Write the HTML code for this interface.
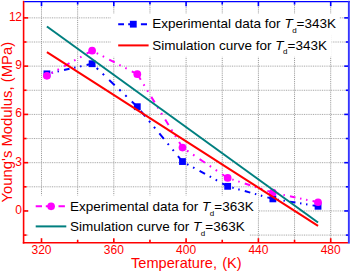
<!DOCTYPE html><html><head><meta charset="utf-8"><title>chart</title><style>
html,body{margin:0;padding:0;background:#fff;}
body{width:350px;height:271px;position:relative;overflow:hidden;font-family:"Liberation Sans",sans-serif;}
.t{position:absolute;white-space:nowrap;line-height:1;}
.yl{color:#f00;font-size:12px;text-align:right;width:20px;left:1.6px;letter-spacing:-0.4px;}
.xl{color:#f00;font-size:12px;text-align:center;width:40px;}
.lg{color:#000;font-size:13.5px;}
.lg i{font-style:italic;}
.lg sub{font-size:8px;vertical-align:baseline;position:relative;top:4.8px;margin-left:-0.5px;}
</style></head><body>
<svg width="350" height="271" viewBox="0 0 350 271" style="position:absolute;left:0;top:0">
<rect x="0" y="0" width="350" height="271" fill="#ffffff"/>
<g stroke="#999" stroke-width="1" stroke-dasharray="1 0.9" fill="none"><line x1="41.50" y1="3" x2="41.50" y2="242"/><line x1="77.65" y1="3" x2="77.65" y2="242"/><line x1="113.80" y1="3" x2="113.80" y2="242"/><line x1="149.95" y1="3" x2="149.95" y2="242"/><line x1="186.10" y1="3" x2="186.10" y2="242"/><line x1="222.25" y1="3" x2="222.25" y2="242"/><line x1="258.40" y1="3" x2="258.40" y2="242"/><line x1="294.55" y1="3" x2="294.55" y2="242"/><line x1="330.70" y1="3" x2="330.70" y2="242"/></g>
<g stroke="#a8a8a8" stroke-width="1" stroke-dasharray="1 0.8" fill="none"><line x1="25" y1="17.87" x2="348" y2="17.87"/><line x1="25" y1="42.00" x2="348" y2="42.00"/><line x1="25" y1="66.14" x2="348" y2="66.14"/><line x1="25" y1="90.27" x2="348" y2="90.27"/><line x1="25" y1="114.41" x2="348" y2="114.41"/><line x1="25" y1="138.54" x2="348" y2="138.54"/><line x1="25" y1="162.68" x2="348" y2="162.68"/><line x1="25" y1="186.81" x2="348" y2="186.81"/><line x1="25" y1="210.95" x2="348" y2="210.95"/><line x1="25" y1="235.08" x2="348" y2="235.08"/></g>
<rect x="111" y="13.7" width="228" height="21" fill="#fff"/>
<rect x="111" y="34" width="220.5" height="22.8" fill="#fff"/>
<rect x="28.5" y="195.5" width="229.7" height="22" fill="#fff"/>
<rect x="28.5" y="217" width="221" height="22.6" fill="#fff"/>
<g stroke-width="1.6" fill="none"><line x1="41.50" y1="242.80" x2="41.50" y2="238.20" stroke="#ff0000"/><line x1="41.50" y1="1.60" x2="41.50" y2="6.20" stroke="#0000ff"/><line x1="77.65" y1="242.80" x2="77.65" y2="239.80" stroke="#ff0000"/><line x1="77.65" y1="1.60" x2="77.65" y2="4.60" stroke="#0000ff"/><line x1="113.80" y1="242.80" x2="113.80" y2="238.20" stroke="#ff0000"/><line x1="113.80" y1="1.60" x2="113.80" y2="6.20" stroke="#0000ff"/><line x1="149.95" y1="242.80" x2="149.95" y2="239.80" stroke="#ff0000"/><line x1="149.95" y1="1.60" x2="149.95" y2="4.60" stroke="#0000ff"/><line x1="186.10" y1="242.80" x2="186.10" y2="238.20" stroke="#ff0000"/><line x1="186.10" y1="1.60" x2="186.10" y2="6.20" stroke="#0000ff"/><line x1="222.25" y1="242.80" x2="222.25" y2="239.80" stroke="#ff0000"/><line x1="222.25" y1="1.60" x2="222.25" y2="4.60" stroke="#0000ff"/><line x1="258.40" y1="242.80" x2="258.40" y2="238.20" stroke="#ff0000"/><line x1="258.40" y1="1.60" x2="258.40" y2="6.20" stroke="#0000ff"/><line x1="294.55" y1="242.80" x2="294.55" y2="239.80" stroke="#ff0000"/><line x1="294.55" y1="1.60" x2="294.55" y2="4.60" stroke="#0000ff"/><line x1="330.70" y1="242.80" x2="330.70" y2="238.20" stroke="#ff0000"/><line x1="330.70" y1="1.60" x2="330.70" y2="6.20" stroke="#0000ff"/><line x1="23.60" y1="17.87" x2="28.20" y2="17.87" stroke="#ff0000"/><line x1="348.85" y1="17.87" x2="344.25" y2="17.87" stroke="#0000ff"/><line x1="23.60" y1="42.00" x2="26.60" y2="42.00" stroke="#ff0000"/><line x1="348.85" y1="42.00" x2="345.85" y2="42.00" stroke="#0000ff"/><line x1="23.60" y1="66.14" x2="28.20" y2="66.14" stroke="#ff0000"/><line x1="348.85" y1="66.14" x2="344.25" y2="66.14" stroke="#0000ff"/><line x1="23.60" y1="90.27" x2="26.60" y2="90.27" stroke="#ff0000"/><line x1="348.85" y1="90.27" x2="345.85" y2="90.27" stroke="#0000ff"/><line x1="23.60" y1="114.41" x2="28.20" y2="114.41" stroke="#ff0000"/><line x1="348.85" y1="114.41" x2="344.25" y2="114.41" stroke="#0000ff"/><line x1="23.60" y1="138.54" x2="26.60" y2="138.54" stroke="#ff0000"/><line x1="348.85" y1="138.54" x2="345.85" y2="138.54" stroke="#0000ff"/><line x1="23.60" y1="162.68" x2="28.20" y2="162.68" stroke="#ff0000"/><line x1="348.85" y1="162.68" x2="344.25" y2="162.68" stroke="#0000ff"/><line x1="23.60" y1="186.81" x2="26.60" y2="186.81" stroke="#ff0000"/><line x1="348.85" y1="186.81" x2="345.85" y2="186.81" stroke="#0000ff"/><line x1="23.60" y1="210.95" x2="28.20" y2="210.95" stroke="#ff0000"/><line x1="348.85" y1="210.95" x2="344.25" y2="210.95" stroke="#0000ff"/><line x1="23.60" y1="235.08" x2="26.60" y2="235.08" stroke="#ff0000"/><line x1="348.85" y1="235.08" x2="345.85" y2="235.08" stroke="#0000ff"/></g>
<path d="M92.11 63.73L46.92 73.86" stroke="#0000ff" stroke-width="2" stroke-dasharray="5.64 5.23 1.43 4.71 1.43 4.71" fill="none"/>
<path d="M137.30 106.69L92.11 63.73" stroke="#0000ff" stroke-width="2" stroke-dasharray="7.59 7.04 1.93 6.35 1.93 6.35" fill="none"/>
<path d="M182.49 161.55L137.30 106.69" stroke="#0000ff" stroke-width="2" stroke-dasharray="7.13 6.61 1.81 5.96 1.81 5.96" fill="none"/>
<path d="M227.67 186.33L182.49 161.55" stroke="#0000ff" stroke-width="2" stroke-dasharray="6.27 5.82 1.60 5.25 1.60 5.25" fill="none"/>
<path d="M272.86 198.88L227.67 186.33" stroke="#0000ff" stroke-width="2" stroke-dasharray="5.71 5.29 1.45 4.77 1.45 4.77" fill="none"/>
<path d="M318.05 206.28L272.86 198.88" stroke="#0000ff" stroke-width="2" stroke-dasharray="5.57 5.17 1.42 4.66 1.42 4.66" fill="none"/>
<rect x="43.52" y="70.46" width="6.8" height="6.8" fill="#0000ff"/>
<rect x="88.71" y="60.33" width="6.8" height="6.8" fill="#0000ff"/>
<rect x="133.90" y="103.29" width="6.8" height="6.8" fill="#0000ff"/>
<rect x="179.09" y="158.15" width="6.8" height="6.8" fill="#0000ff"/>
<rect x="224.27" y="182.93" width="6.8" height="6.8" fill="#0000ff"/>
<rect x="269.46" y="195.48" width="6.8" height="6.8" fill="#0000ff"/>
<rect x="314.65" y="202.88" width="6.8" height="6.8" fill="#0000ff"/>
<path d="M92.11 50.69L46.92 75.79" stroke="#ff00ff" stroke-width="2" stroke-dasharray="6.29 5.83 1.60 5.26 1.60 5.26" fill="none"/>
<path d="M137.30 74.19L92.11 50.69" stroke="#ff00ff" stroke-width="2" stroke-dasharray="6.20 5.75 1.58 5.18 1.58 5.18" fill="none"/>
<path d="M182.49 147.56L137.30 74.19" stroke="#ff00ff" stroke-width="2" stroke-dasharray="6.46 5.99 1.64 5.40 1.64 5.40" fill="none"/>
<path d="M227.67 177.97L182.49 147.56" stroke="#ff00ff" stroke-width="2" stroke-dasharray="6.63 6.15 1.69 5.54 1.69 5.54" fill="none"/>
<path d="M272.86 192.61L227.67 177.97" stroke="#ff00ff" stroke-width="2" stroke-dasharray="5.78 5.36 1.47 4.84 1.47 4.84" fill="none"/>
<path d="M318.05 202.26L272.86 192.61" stroke="#ff00ff" stroke-width="2" stroke-dasharray="5.62 5.22 1.43 4.70 1.43 4.70" fill="none"/>
<circle cx="46.92" cy="75.79" r="3.85" fill="#ff00ff"/>
<circle cx="92.11" cy="50.69" r="3.85" fill="#ff00ff"/>
<circle cx="137.30" cy="74.19" r="3.85" fill="#ff00ff"/>
<circle cx="182.49" cy="147.56" r="3.85" fill="#ff00ff"/>
<circle cx="227.67" cy="177.97" r="3.85" fill="#ff00ff"/>
<circle cx="272.86" cy="192.61" r="3.85" fill="#ff00ff"/>
<circle cx="318.05" cy="202.26" r="3.85" fill="#ff00ff"/>
<polyline points="46.92,52.14 318.05,225.91" stroke="#ff0000" stroke-width="2" fill="none"/>
<polyline points="46.92,26.56 318.05,222.53" stroke="#007f7f" stroke-width="2" fill="none"/>
<line x1="23.60" y1="0.80" x2="23.60" y2="243.60" stroke="#ff0000" stroke-width="1.6"/>
<line x1="22.80" y1="242.80" x2="347.95" y2="242.80" stroke="#ff0000" stroke-width="1.6"/>
<line x1="24.20" y1="1.60" x2="349.85" y2="1.60" stroke="#0000ff" stroke-width="1.45"/>
<line x1="348.85" y1="0.80" x2="348.85" y2="243.60" stroke="#3535ff" stroke-width="1.9"/>
<path d="M118.2 24.2H124M128.2 24.2H131M140.9 24.2H147" stroke="#0000ff" stroke-width="2" fill="none"/>
<rect x="129.9" y="20.8" width="6.8" height="6.8" fill="#0000ff"/>
<line x1="118.2" y1="45.4" x2="148.6" y2="45.4" stroke="#ff0000" stroke-width="2"/>
<path d="M35.7 206.3H42M45.8 206.3H48M58.5 206.3H64.9" stroke="#ff00ff" stroke-width="2" fill="none"/>
<circle cx="51.1" cy="206.3" r="3.85" fill="#ff00ff"/>
<line x1="35.7" y1="226.4" x2="66.3" y2="226.4" stroke="#007f7f" stroke-width="2"/>
</svg>
<div class="t yl" style="top:10.77px">12</div>
<div class="t yl" style="top:59.04px">9</div>
<div class="t yl" style="top:107.31px">6</div>
<div class="t yl" style="top:155.58px">3</div>
<div class="t yl" style="top:203.85px">0</div>
<div class="t xl" style="left:21.50px;top:243.7px">320</div>
<div class="t xl" style="left:93.80px;top:243.7px">360</div>
<div class="t xl" style="left:166.10px;top:243.7px">400</div>
<div class="t xl" style="left:238.40px;top:243.7px">440</div>
<div class="t xl" style="left:310.70px;top:243.7px">480</div>
<div class="t" style="color:#f00;font-size:14.6px;word-spacing:1.2px;left:131px;top:255.6px">Temperature, (K)</div>
<div class="t" id="ytitle" style="color:#f00;font-size:14.85px;left:0;top:0;transform-origin:0 0;transform:translate(0px,202.5px) rotate(-90deg)">Young's Modulus, (MPa)</div>
<div class="t lg" style="left:152.3px;top:17.2px">Experimental data for <i>T</i><sub>d</sub>=343K</div>
<div class="t lg" style="left:152.3px;top:38.5px">Simulation curve for <i>T</i><sub>d</sub>=343K</div>
<div class="t lg" style="left:70px;top:200.1px">Experimental data for <i>T</i><sub>d</sub>=363K</div>
<div class="t lg" style="left:70px;top:220.1px">Simulation curve for <i>T</i><sub>d</sub>=363K</div>
</body></html>
